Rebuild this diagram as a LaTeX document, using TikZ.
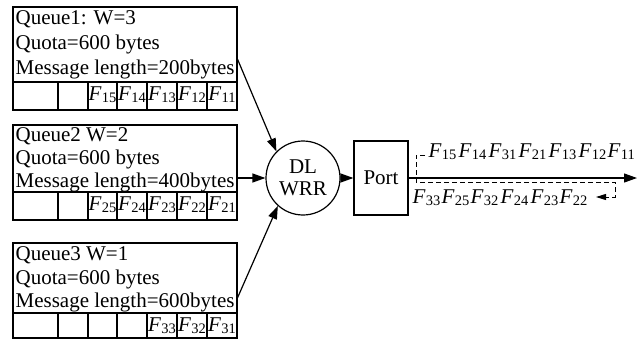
\documentclass[tikz,border=0pt]{standalone}
\usepackage{fontspec}
\setmainfont{Liberation Serif}
\usetikzlibrary{arrows.meta}
% frame symbol F with a lowered index
\newcommand\Fsub[1]{{\itshape F}\kern0.02em\raisebox{-0.3ex}{\fontsize{14.5}{15}\selectfont #1}}
\begin{document}
\begin{tikzpicture}[x=1pt,y=-1pt,line width=1.2pt,
  font=\fontsize{21}{25}\selectfont,
  queue/.style={draw,minimum width=224pt,inner sep=0pt},
  line/.style={inner sep=0pt,anchor=base west},
  frame/.style={inner sep=0pt,anchor=base},
  seq/.style={inner sep=0pt,anchor=base west},
  arr/.style={-{Triangle[length=13pt,width=9pt]}},
  back/.style={dashed,dash pattern=on 5pt off 3pt,line width=1pt,-{Triangle[length=10pt,width=6pt]}}]
\useasboundingbox (0,0) rectangle (644,350);

% queue boxes
\node[queue,minimum height=103pt] (q1) at (125,58.5) {};
\node[queue,minimum height=95pt]  (q2) at (125,172.5) {};
\node[queue,minimum height=95pt]  (q3) at (125,290.5) {};

% queue descriptions
\node[line] (q1a) at (15,25)  {Queue1: W=3};
\node[line] (q1b) at (15,50)  {Quota=600 bytes};
\node[line] (q1c) at (15,75)  {Message length=200bytes};
\node[line] (q2a) at (15,141) {Queue2 W=2};
\node[line] (q2b) at (15,164) {Quota=600 bytes};
\node[line] (q2c) at (15,187) {Message length=400bytes};
\node[line] (q3a) at (15,260) {Queue3 W=1};
\node[line] (q3b) at (15,284) {Quota=600 bytes};
\node[line] (q3c) at (15,307) {Message length=600bytes};

% buffer cells
\foreach \top/\bot in {82/110,192/220,313/338}{
  \draw (13,\top) -- (237,\top);
  \foreach \x in {58,88,117,147,177,207}
    \draw (\x,\top) -- (\x,\bot);
}
\foreach \n/\x in {15/102.5,14/132,13/162,12/192,11/222}
  \node[frame] (c1\n) at (\x,100) {\Fsub{\n}};
\foreach \n/\x in {25/102.5,24/132,23/162,22/192,21/222}
  \node[frame] (c2\n) at (\x,210) {\Fsub{\n}};
\foreach \n/\x in {33/162,32/192,31/222}
  \node[frame] (c3\n) at (\x,331) {\Fsub{\n}};

% scheduler and port
\node[circle,draw,minimum size=74pt,inner sep=0pt] (wrr) at (303,178) {};
\node[align=center,inner sep=0pt,font=\fontsize{21}{22}\selectfont] (wrrtxt) at (303,178) {DL\\WRR};
\node[draw,minimum width=54pt,minimum height=74pt,inner sep=0pt] (port) at (381,178) {Port};

\draw[arr] ([yshift=-53pt]q1.north east) -- (wrr.135);
\draw[arr] (q2.east |- wrr.west) -- (wrr.west);
\draw[arr] ([yshift=41pt]q3.south east) -- (wrr.228);
\draw[arr] (wrr.east) -- (port.west);

% output link
\coordinate (out) at (637,178);
\draw[arr] (port.east) -- (out);

% transmitted and returned frame orders
\foreach \n/\x [count=\i] in {15/428,14/458,31/488,21/518,13/548,12/578,11/607}
  \node[seq] (o\i) at (\x,157) {\Fsub{\n}};
\foreach \n/\x [count=\i] in {33/412,25/441,32/470,24/500,23/530,22/559}
  \node[seq] (r\i) at (\x,203) {\Fsub{\n}};

\coordinate (d0) at (425,155);
\coordinate (d1) at (416,155);
\coordinate (d2) at (416,182);
\coordinate (d3) at (615,182);
\coordinate (d4) at (615,197);
\coordinate (d5) at (596,197);
\draw[back] (d0) -- (d1) -- (d2) -- (d3) -- (d4) -- (d5);
\end{tikzpicture}
\end{document}
